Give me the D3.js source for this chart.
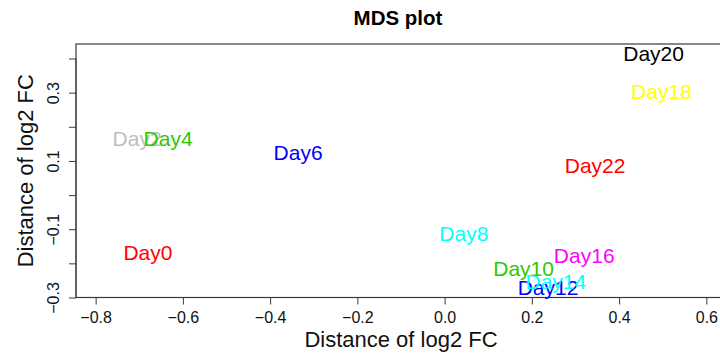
<!DOCTYPE html>
<html>
<head>
<meta charset="utf-8">
<script src="https://cdn.jsdelivr.net/npm/d3@7"></script>
<style>
  body { margin: 0; background: #fff; }
  svg text { font-family: "Liberation Sans", Arial, sans-serif; }
</style>
</head>
<body>
<div id="mds_plot"></div>
<script>
// MDS plot data
const sampleLabels = ["Day0", "Day2", "Day4", "Day6", "Day8", "Day10", "Day12", "Day14", "Day16", "Day18", "Day20", "Day22"];
const dim1 = [-0.680, -0.705, -0.634, -0.336, 0.044, 0.181, 0.237, 0.255, 0.320, 0.497, 0.479, 0.345];
const dim2 = [-0.167, 0.167, 0.167, 0.124, -0.112, -0.214, -0.270, -0.253, -0.178, 0.305, 0.415, 0.088];
const labelColors = ["#FF0000", "#BEBEBE", "#2EC800", "#0000FF", "#00FFFF", "#2EC800", "#0000FF", "#00FFFF", "#FF00FF", "#FFFF00", "#000000", "#FF0000"];
const xTicks = [-0.8, -0.6, -0.4, -0.2, 0.0, 0.2, 0.4, 0.6];
const yTicks = [-0.3, -0.2, -0.1, 0.0, 0.1, 0.2, 0.3, 0.4];
const yTickLabels = [-0.3, -0.1, 0.1, 0.3];

const width = 720, height = 358;
const plot = { left: 76, right: 726, top: 44, bottom: 297.5 };

const svg = d3.select("#mds_plot")
    .append("svg")
    .attr("width", width)
    .attr("height", height);

const x = d3.scaleLinear()
    .domain([-0.845, 0.645])
    .range([plot.left, plot.right]);

const y = d3.scaleLinear()
    .domain([-0.3, 0.4425])
    .range([plot.bottom, plot.top]);

const axisColor = "#3a3a3a";

// box around the plot region
svg.append("rect")
    .attr("x", plot.left)
    .attr("y", plot.top)
    .attr("width", plot.right - plot.left)
    .attr("height", plot.bottom - plot.top)
    .attr("fill", "none")
    .attr("stroke", axisColor)
    .attr("stroke-width", 1.2);

// x axis
const xAxis = svg.append("g")
    .attr("transform", `translate(0,${plot.bottom})`)
    .call(d3.axisBottom(x)
        .tickValues(xTicks)
        .tickSize(7)
        .tickSizeOuter(0)
        .tickFormat(d3.format(".1f")));
xAxis.select(".domain").remove();
xAxis.append("line")
    .attr("x1", x(xTicks[0]))
    .attr("x2", x(xTicks[xTicks.length - 1]))
    .attr("stroke", axisColor);
xAxis.selectAll(".tick line").attr("stroke", axisColor);
xAxis.selectAll(".tick text")
    .attr("y", 25)
    .attr("dy", 0)
    .attr("fill", "#111")
    .style("font-size", "16px");

// y axis, labels only on every second tick
const yAxis = svg.append("g")
    .attr("transform", `translate(${plot.left},0)`)
    .call(d3.axisLeft(y)
        .tickValues(yTicks)
        .tickSize(7)
        .tickSizeOuter(0)
        .tickFormat(d => yTickLabels.some(v => Math.abs(v - d) < 1e-9) ? d3.format(".1f")(d) : ""));
yAxis.select(".domain").remove();
yAxis.append("line")
    .attr("y1", y(yTicks[0]))
    .attr("y2", y(yTicks[yTicks.length - 1]))
    .attr("stroke", axisColor);
yAxis.selectAll(".tick line").attr("stroke", axisColor);
yAxis.selectAll(".tick text")
    .attr("x", 0)
    .attr("dy", 0)
    .attr("text-anchor", "middle")
    .attr("transform", "translate(-17,0) rotate(-90)")
    .attr("fill", "#111")
    .style("font-size", "16px");

// sample labels
svg.append("g")
    .selectAll("text")
    .data(sampleLabels)
    .enter().append("text")
    .attr("x", (d, i) => x(dim1[i]))
    .attr("y", (d, i) => y(dim2[i]))
    .attr("dy", "0.36em")
    .attr("text-anchor", "middle")
    .attr("fill", (d, i) => labelColors[i])
    .style("font-size", "21px")
    .text(d => d);

// title
svg.append("text")
    .attr("x", (plot.left + plot.right) / 2 - 3)
    .attr("y", 25)
    .attr("text-anchor", "middle")
    .style("font-size", "20.5px")
    .style("font-weight", "bold")
    .text("MDS plot");

// x axis label
svg.append("text")
    .attr("x", (plot.left + plot.right) / 2)
    .attr("y", 347)
    .attr("text-anchor", "middle")
    .attr("fill", "#111")
    .style("font-size", "22px")
    .text("Distance of log2 FC");

// y axis label
svg.append("text")
    .attr("transform", `translate(32.5,${(plot.top + plot.bottom) / 2}) rotate(-90)`)
    .attr("text-anchor", "middle")
    .attr("fill", "#111")
    .style("font-size", "22px")
    .text("Distance of log2 FC");
</script>
</body>
</html>
